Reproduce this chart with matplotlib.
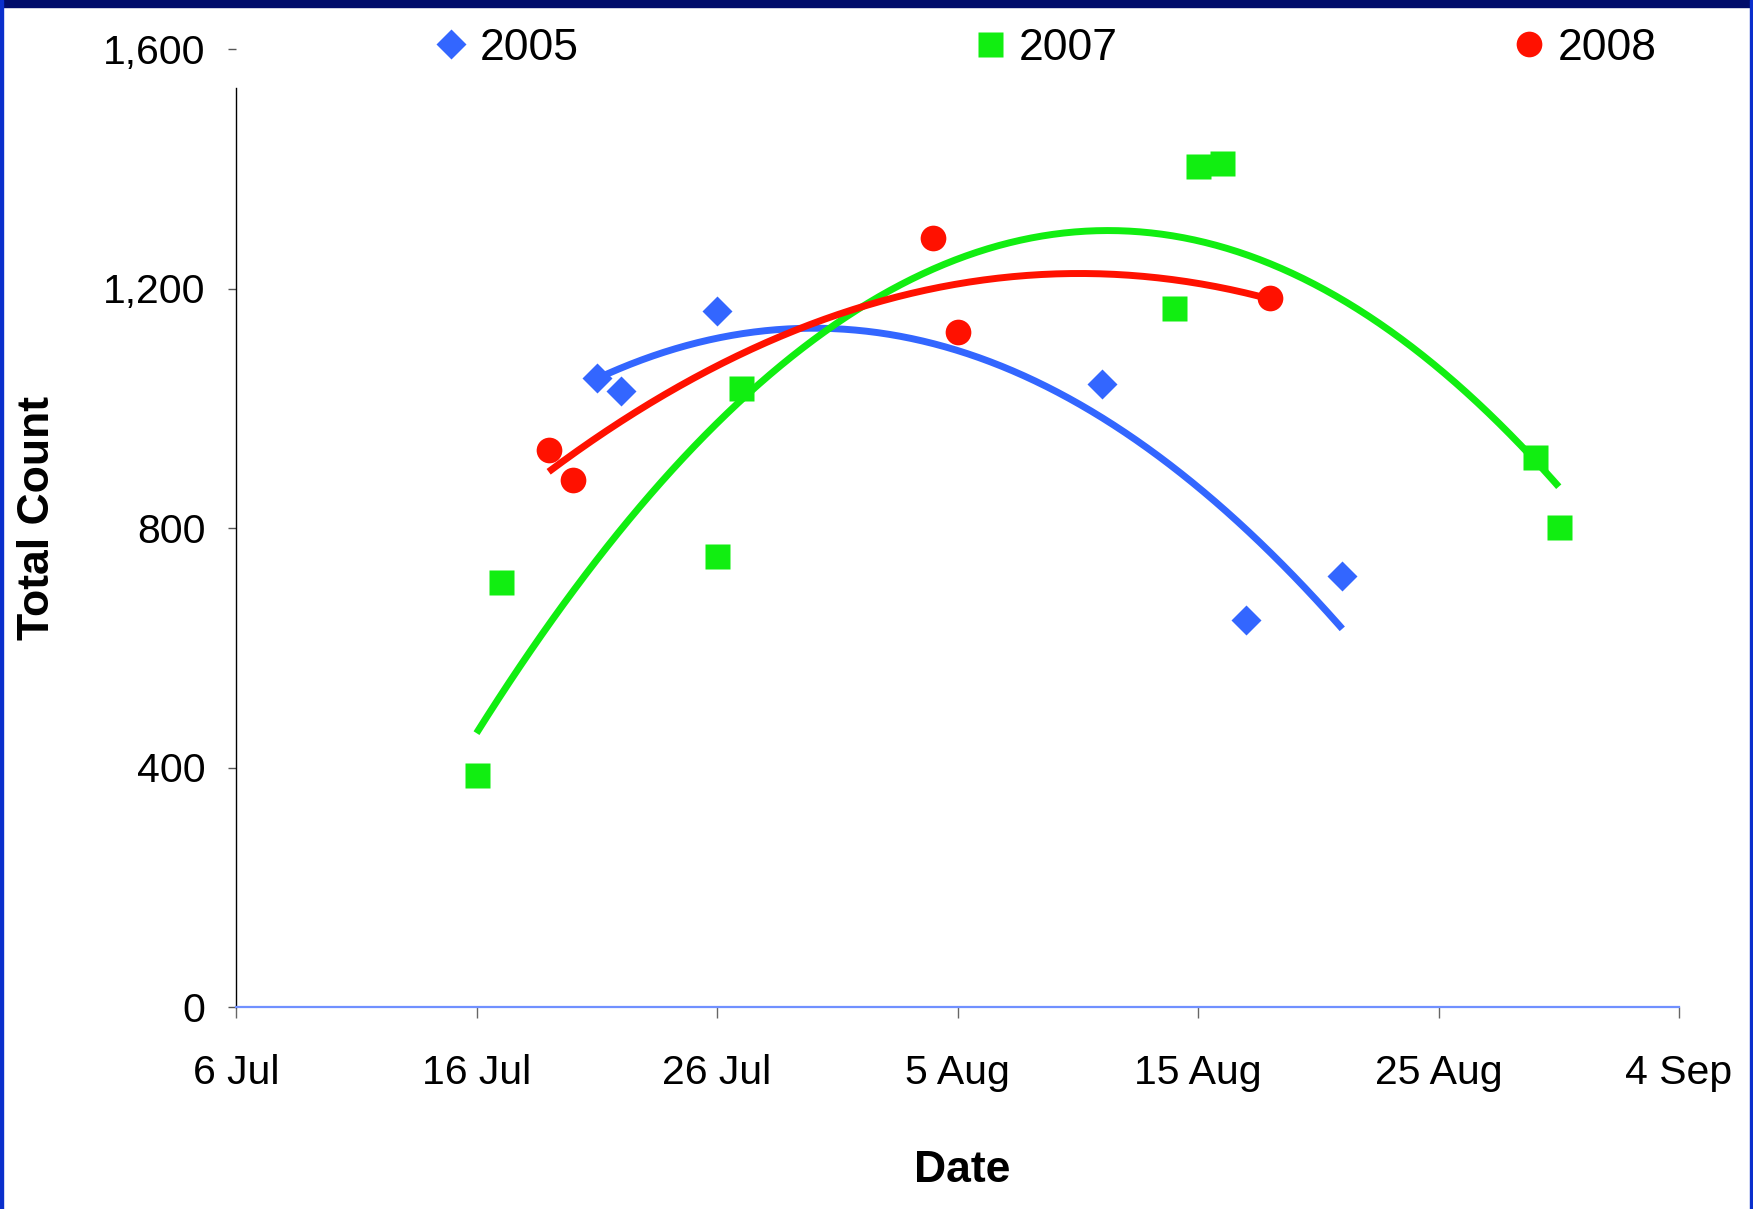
import numpy as np
import matplotlib
matplotlib.use("Agg")
import matplotlib.pyplot as plt
import matplotlib.dates as mdates
from matplotlib.patches import Rectangle
from matplotlib.ticker import FuncFormatter, FixedLocator
from matplotlib import font_manager

plt.rcParams['font.family'] = ['Liberation Sans', 'DejaVu Sans']

# data (all series drawn on one calendar year)
dates_2005 = ['2008-07-21', '2008-07-22', '2008-07-26', '2008-08-11', '2008-08-17', '2008-08-21']
counts_2005 = [1050, 1029, 1162, 1040, 646, 720]

dates_2007 = ['2008-07-16', '2008-07-17', '2008-07-26', '2008-07-27', '2008-08-14',
              '2008-08-15', '2008-08-16', '2008-08-29', '2008-08-30']
counts_2007 = [387, 709, 754, 1033, 1168, 1405, 1409, 919, 801]

dates_2008 = ['2008-07-19', '2008-07-20', '2008-08-04', '2008-08-05', '2008-08-18']
counts_2008 = [930, 881, 1284, 1128, 1184]

series_labels = ['2005', '2007', '2008']
y_ticks = [0, 400, 800, 1200, 1600]
x_start, x_end = '2008-07-06', '2008-09-04'

colors = ['#3366ff', '#11ee11', '#ff1100']
markers = ['D', 's', 'o']
msizes = [15.5, 18, 18.5]

W, H = 1753, 1209
fig = plt.figure(figsize=(W / 100, H / 100), dpi=100)
fig.patch.set_facecolor('white')

# slide frame
fig.patches.append(Rectangle((0, 1 - 7 / H), 1, 7 / H, transform=fig.transFigure,
                             color='#000c6a', zorder=0))
fig.patches.append(Rectangle((0, 0), 3 / W, 1, transform=fig.transFigure,
                             color='#0a2fcc', zorder=0))
fig.patches.append(Rectangle((1 - 3 / W, 0), 3 / W, 1, transform=fig.transFigure,
                             color='#0a2fcc', zorder=0))

ax = fig.add_axes([236 / W, 1 - 1007 / H, (1679 - 236) / W, (1007 - 49) / H])

x0 = mdates.date2num(np.datetime64(x_start))
x1 = mdates.date2num(np.datetime64(x_end))

all_dates = [dates_2005, dates_2007, dates_2008]
all_counts = [counts_2005, counts_2007, counts_2008]
handles = []
for d, c, col, mk, ms, lab in zip(all_dates, all_counts, colors, markers, msizes, series_labels):
    xs = mdates.date2num(np.array(d, dtype='datetime64[D]'))
    ys = np.array(c, dtype=float)
    # second order polynomial trendline, like the spreadsheet one
    coef = np.polyfit(xs - x0, ys, 2)
    xf = np.linspace(xs.min(), xs.max(), 200)
    ax.plot(xf, np.polyval(coef, xf - x0), color=col, lw=5, zorder=2,
            solid_capstyle='butt')
    h, = ax.plot(xs, ys, ls='none', marker=mk, ms=ms, color=col, mec='none',
                 zorder=3, label=lab)
    handles.append(h)

ax.set_xlim(x0, x1)
ax.set_ylim(0, 1600)

ax.xaxis.set_major_locator(FixedLocator(np.arange(x0, x1 + 0.5, 10)))
ax.xaxis.set_major_formatter(FuncFormatter(
    lambda v, p: f"{mdates.num2date(v).day} {mdates.num2date(v):%b}"))
ax.set_yticks(y_ticks)
ax.yaxis.set_major_formatter(FuncFormatter(lambda v, p: f"{int(v):,}"))

for s in ['top', 'right']:
    ax.spines[s].set_visible(False)
ax.spines['left'].set_bounds(0, 1535)
ax.spines['left'].set_color('black')
ax.spines['left'].set_linewidth(1.0)
ax.spines['bottom'].set_color('#7090ff')
ax.spines['bottom'].set_linewidth(1.6)

ax.tick_params(axis='y', direction='out', length=6, width=1, color='#555555',
               pad=16, labelsize=29.5)
ax.tick_params(axis='x', direction='out', length=8, width=1, color='#666666',
               pad=26, labelsize=29.5)

fig.text(962 / W, 1 - 1171 / H, 'Date', ha='center', va='center',
         fontsize=32, fontweight='bold')

narrow = 'Liberation Sans Narrow'
try:
    font_manager.findfont(narrow, fallback_to_default=False)
    ylab_font, ylab_size = [narrow, 'Liberation Sans'], 38
except Exception:
    ylab_font, ylab_size = ['Liberation Sans'], 32
fig.text(38 / W, 1 - 518 / H, 'Total Count', ha='center', va='center',
         rotation=90, fontsize=ylab_size, fontweight='bold', family=ylab_font)

fig.legend(handles=handles, loc='center left', bbox_to_anchor=(429 / W, 1 - 48 / H),
           ncol=3, frameon=False, fontsize=32, handlelength=1.0, handletextpad=0.15,
           columnspacing=8.75, borderpad=0, borderaxespad=0, markerscale=1.0)

fig.savefig('out.png', dpi=100, facecolor='white')
